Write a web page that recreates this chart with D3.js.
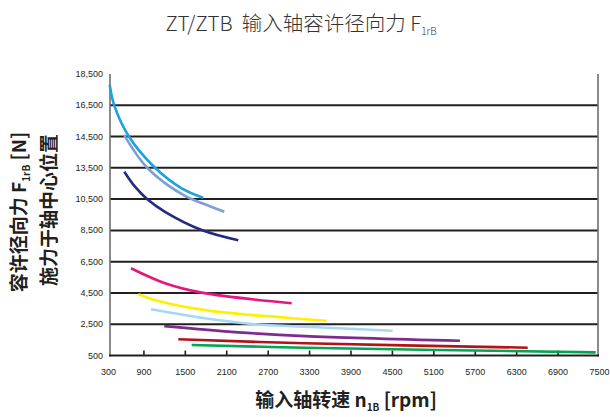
<!DOCTYPE html>
<html>
<head>
<meta charset="utf-8">
<script src="https://cdn.jsdelivr.net/npm/d3@7"></script>
<style>
  body { margin: 0; background: #fff; }
  svg { display: block; }
</style>
</head>
<body>
<div id="chart"></div>
<script>
const width = 610
const height = 417

// axis ticks
const xTicks = [300, 900, 1500, 2100, 2700, 3300, 3900, 4500, 5100, 5700, 6300, 6900, 7500]
const yTicks = [500, 2500, 4500, 6500, 8500, 10500, 13500, 14500, 16500, 18500]

// curves: speed n [rpm] and permitted radial force F [N]
const curveNames = ['c1', 'c2', 'c3', 'c4', 'c5', 'c6', 'c7', 'c8', 'c9']
const curveColors = ['#1ba3dd', '#7f9fd3', '#252a80', '#e4167f', '#fff000', '#a3d9f4', '#7e2b8e', '#b3121c', '#00a651']
const speeds = [
  [412, 474, 687, 1061, 1455, 1767],
  [619, 966, 1502, 1763, 2072],
  [623, 778, 948, 1213, 1744, 2274],
  [720, 1213, 1744, 3048],
  [826, 1116, 1792, 3241, 3555],
  [1010, 1792, 2516, 3241, 4511],
  [1202, 2274, 3241, 5486],
  [1405, 3241, 6467],
  [1599, 3241, 7452]
]
const forces = [
  [17810, 16540, 14520, 13520, 11540, 10630],
  [14610, 13435, 10800, 10220, 9690],
  [13130, 11690, 10540, 9690, 8525, 7870],
  [6080, 5120, 4520, 3840],
  [4420, 3980, 3400, 2820, 2720],
  [3460, 2880, 2500, 2340, 2080],
  [2380, 1980, 1740, 1440],
  [1540, 1280, 1000],
  [1170, 1000, 700]
]

const plotLeft = 110
const plotRight = 598
const plotTop = 74
const plotBottom = 355.5

const svg = d3
  .select('#chart')
  .append('svg')
  .attr('width', width)
  .attr('height', height)

const xScale = d3.scaleLinear().domain([300, 7500]).range([102, 599])

// the y axis is not linear: every tick is one equal step
const step = (plotBottom - plotTop) / (yTicks.length - 1)
const yScale = d3
  .scaleLinear()
  .domain(yTicks)
  .range(yTicks.map((d, i) => plotBottom - i * step))

// horizontal grid lines
svg
  .selectAll('.grid')
  .data(yTicks.slice(1, -1))
  .enter()
  .append('line')
  .attr('x1', plotLeft)
  .attr('x2', plotRight)
  .attr('y1', d => yScale(d))
  .attr('y2', d => yScale(d))
  .attr('stroke', '#231f20')
  .attr('stroke-width', 2)

// left and right frame
svg.append('line')
  .attr('x1', plotLeft).attr('x2', plotLeft)
  .attr('y1', plotTop).attr('y2', plotBottom + 1)
  .attr('stroke', '#6d6e70').attr('stroke-width', 1.6)
svg.append('line')
  .attr('x1', plotRight).attr('x2', plotRight)
  .attr('y1', plotTop).attr('y2', plotBottom + 1)
  .attr('stroke', '#6d6e70').attr('stroke-width', 1.6)

// bottom axis
const xAxis = d3.axisBottom(xScale)
  .tickValues(xTicks)
  .tickSize(-5)
  .tickPadding(13)
  .tickFormat(d3.format('d'))

const gx = svg.append('g')
  .attr('transform', 'translate(0,' + plotBottom + ')')
  .call(xAxis)
gx.select('.domain').remove()
gx.selectAll('.tick line')
  .attr('stroke', '#231f20')
  .attr('stroke-width', 1.6)
  .attr('display', d => (d === 300 || d === 7500 ? 'none' : null))
gx.selectAll('.tick text')
  .attr('font-family', '"Liberation Sans", Arial, sans-serif')
  .attr('font-size', 9)
  .attr('fill', '#231f20')
  .attr('dx', d => (d === 300 ? plotLeft - xScale(300) - 2 : 0))
gx.append('line')
  .attr('x1', plotLeft - 1)
  .attr('x2', plotRight + 1)
  .attr('stroke', '#231f20')
  .attr('stroke-width', 2)

// y tick labels
svg
  .selectAll('.ylabel')
  .data(yTicks)
  .enter()
  .append('text')
  .text(d => d3.format(',')(d))
  .attr('x', 103)
  .attr('y', d => yScale(d) + 3)
  .attr('text-anchor', 'end')
  .attr('font-family', '"Liberation Sans", Arial, sans-serif')
  .attr('font-size', 9)
  .attr('fill', '#231f20')

// curves
const line = d3
  .line()
  .x(d => xScale(d[0]))
  .y(d => yScale(d[1]))
  .curve(d3.curveCatmullRom.alpha(0.5))

svg
  .selectAll('.curve')
  .data(curveNames)
  .enter()
  .append('path')
  .attr('d', (d, i) => line(speeds[i].map((n, j) => [n, forces[i][j]])))
  .attr('fill', 'none')
  .attr('stroke', (d, i) => curveColors[i])
  .attr('stroke-width', 2.6)

// title
const title = svg.append('text')
  .attr('x', 301)
  .attr('y', 31)
  .attr('text-anchor', 'middle')
  .attr('font-family', '"Noto Sans CJK SC", "Noto Sans", sans-serif')
  .attr('font-size', 20.5)
  .attr('font-weight', 300)
  .attr('fill', '#333')
title.append('tspan').text('ZT/ZTB\u00a0\u00a0输入轴容许径向力 F')
title.append('tspan').text('1rB').attr('font-size', 10).attr('dy', 4)

// y axis title, two rotated lines
const yTitle = svg.append('text')
  .attr('transform', 'translate(26,212) rotate(-90)')
  .attr('text-anchor', 'middle')
  .attr('font-family', '"Noto Sans CJK SC", sans-serif')
  .attr('font-weight', 'bold')
  .attr('font-size', 19)
  .attr('fill', '#231f20')
yTitle.append('tspan').text('容许径向力 F')
yTitle.append('tspan').text('1rB').attr('font-size', 10).attr('dy', 4)
yTitle.append('tspan').text(' [N]').attr('dy', -4)

svg.append('text')
  .attr('transform', 'translate(56,210) rotate(-90)')
  .attr('text-anchor', 'middle')
  .attr('font-family', '"Noto Sans CJK SC", sans-serif')
  .attr('font-weight', 'bold')
  .attr('font-size', 19)
  .attr('fill', '#231f20')
  .text('施力于轴中心位置')

// x axis title
const xTitle = svg.append('text')
  .attr('x', 346)
  .attr('y', 407)
  .attr('text-anchor', 'middle')
  .attr('font-family', '"Noto Sans CJK SC", sans-serif')
  .attr('font-weight', 'bold')
  .attr('font-size', 19)
  .attr('fill', '#231f20')
xTitle.append('tspan').text('输入轴转速 n')
xTitle.append('tspan').text('1B').attr('font-size', 10).attr('dy', 4)
xTitle.append('tspan').text(' [rpm]').attr('dy', -4)
</script>
</body>
</html>
